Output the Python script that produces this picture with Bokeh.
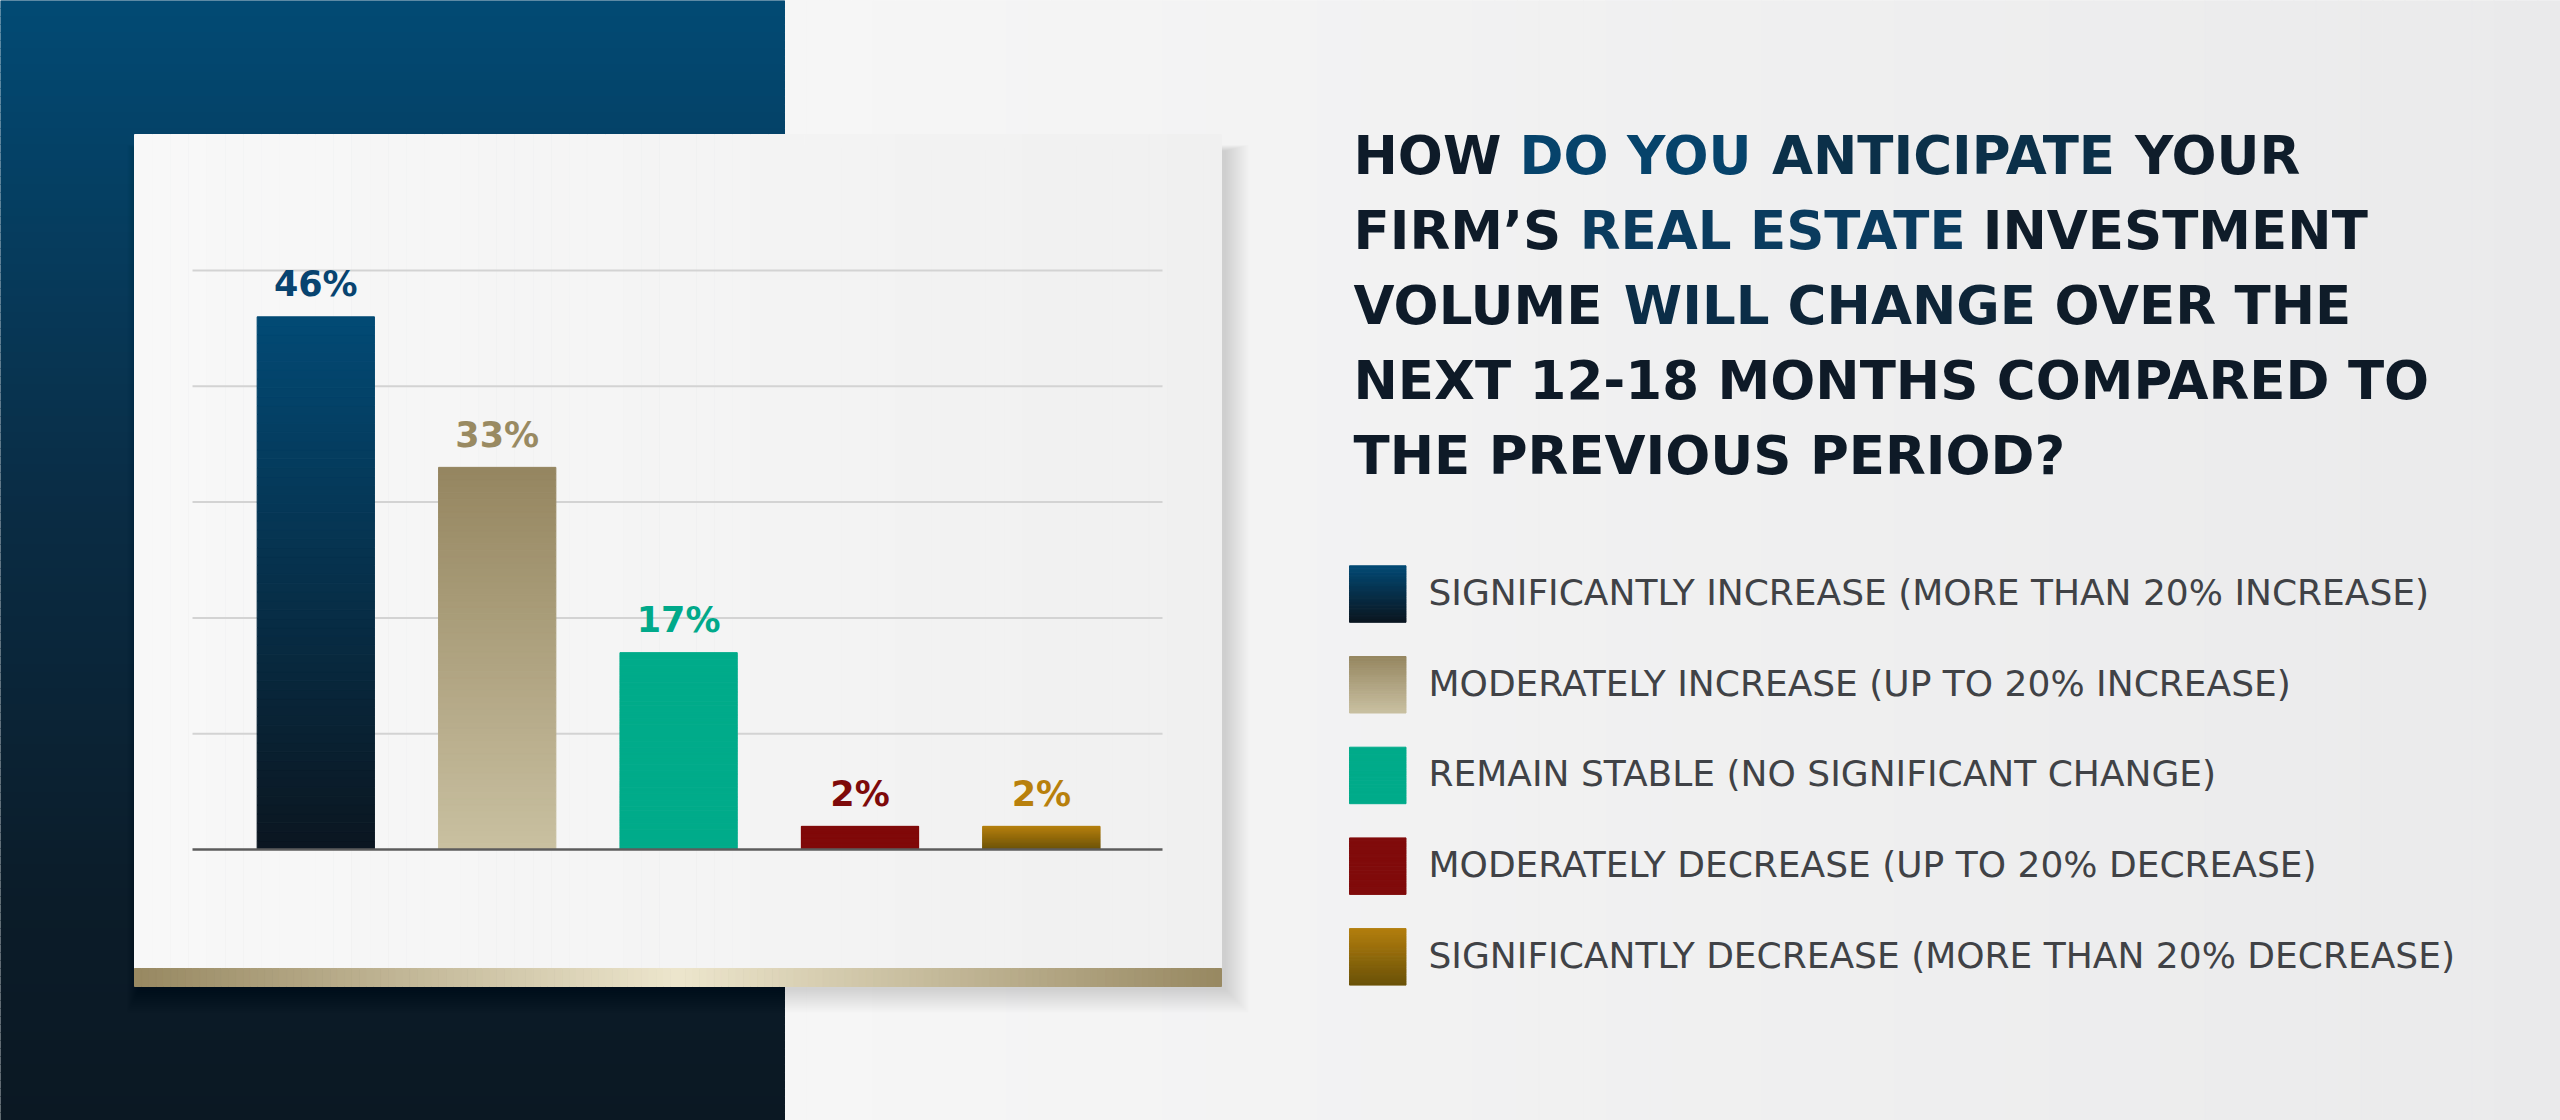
from bokeh.plotting import figure
from bokeh.models import Range1d, ColumnDataSource
from bokeh.core.properties import value
from bokeh.embed import file_html
from bokeh.resources import INLINE

# ---- data ----
categories = [
    "SIGNIFICANTLY INCREASE (MORE THAN 20% INCREASE)",
    "MODERATELY INCREASE (UP TO 20% INCREASE)",
    "REMAIN STABLE (NO SIGNIFICANT CHANGE)",
    "MODERATELY DECREASE (UP TO 20% DECREASE)",
    "SIGNIFICANTLY DECREASE (MORE THAN 20% DECREASE)",
]
values = [46, 33, 17, 2, 2]
grid_ticks = [10, 20, 30, 40, 50]
title_lines = [
    [("HOW", "#0e1b29"), ("DO YOU", "#06436b"), ("ANTICIPATE", "#0b3049"), ("YOUR", "#0f1d2b")],
    [("FIRM\u2019S", "#0e1b29"), ("REAL ESTATE", "#0a3b5e"), ("INVESTMENT", "#0f1c29")],
    [("VOLUME", "#0e1b29"), ("WILL", "#0b2d47"), ("CHANGE", "#0e2538"), ("OVER THE", "#0f1c29")],
    [("NEXT 12-18 MONTHS COMPARED TO", "#0e1a27")],
    [("THE PREVIOUS PERIOD?", "#0e1a27")],
]

# ---- colours ----
bar_top = ["#024a75", "#958660", "#00ab8a", "#800b0b", "#b47f0e"]
bar_bottom = ["#0b1620", "#c9c0a1", "#00ab8a", "#800b0b", "#6a5208"]
label_colors = ["#084470", "#998a62", "#00a98a", "#7e0a0a", "#b8800c"]

W, H = 2560, 1120
BL = 0.4  # svg text sits this many em below the asked baseline

# DejaVu Sans Bold advance widths (em), used to lay the coloured title pieces side by side
adv = {" ": .348, "A": .774, "C": .734, "D": .830, "E": .683, "F": .683, "G": .821, "H": .837,
       "I": .372, "L": .637, "M": .995, "N": .837, "O": .850, "P": .733, "R": .770, "S": .720,
       "T": .682, "U": .812, "V": .774, "W": 1.098, "X": .774, "Y": .724, "\u2019": .380,
       "?": .580, "-": .415, "1": .696, "2": .696, "8": .696}
kern = {"AT": -.09, "TA": -.09, "PA": -.05}


def text_width(s):
    w = sum(adv.get(ch, .7) for ch in s)
    return w + sum(kern.get(s[i:i + 2], 0) for i in range(len(s) - 1))


def hex2rgb(c):
    c = c.lstrip("#")
    return [int(c[i:i + 2], 16) for i in (0, 2, 4)]


def mix(c1, c2, t):
    a, b = hex2rgb(c1), hex2rgb(c2)
    return "#%02x%02x%02x" % tuple(round(a[i] + (b[i] - a[i]) * t) for i in range(3))


def ramp(stops, t):
    for (t0, c0), (t1, c1) in zip(stops[:-1], stops[1:]):
        if t <= t1:
            return mix(c0, c1, (t - t0) / (t1 - t0) if t1 > t0 else 0)
    return stops[-1][1]


p = figure(width=W, height=H, x_range=Range1d(0, W), y_range=Range1d(H, 0),
           output_backend="svg", toolbar_location=None, min_border=0,
           x_axis_location=None, y_axis_location=None)
p.grid.visible = False
p.outline_line_color = None
p.background_fill_color = "#efefef"
p.border_fill_color = "#efefef"

# chart scales: 0% on the baseline, 11.58 px per percent; bars 181.4 px apart
base_y, px_pct = 849, 11.58
first_x, step = 315.3, 181.4
p.extra_y_ranges = {"pct": Range1d(-(H - base_y) / px_pct, base_y / px_pct)}
p.extra_x_ranges = {"slot": Range1d(-first_x / step, (W - first_x) / step)}

# page background (light side)
n = 80
xs = [784 + (W - 784) * k / n for k in range(n + 1)]
cols = [ramp([(0, "#f6f6f6"), (1, "#eaeaeb")], k / n) for k in range(n)]
p.quad(left=xs[:-1], right=xs[1:], top=0, bottom=H, fill_color=cols, line_color=cols)

# dark panel on the left
n = 140
ys = [H * k / n for k in range(n + 1)]
cols = [ramp([(0, "#024a74"), (0.45, "#0a2c44"), (0.8, "#0b1c29"), (1, "#0b1823")], k / n)
        for k in range(n)]
p.quad(left=0, right=784, top=ys[:-1], bottom=ys[1:], fill_color=cols, line_color=cols)

# card shadow
for k in range(12):
    p.quad(left=138 - k, right=1226 + 2 * k, top=150 - k * 0.5, bottom=990 + 2 * k,
           fill_color="#000000", fill_alpha=0.012, line_color=None)

# card
n = 60
xs = [134 + (1221 - 134) * k / n for k in range(n + 1)]
cols = [ramp([(0, "#f8f8f8"), (1, "#f0f0f0")], k / n) for k in range(n)]
p.quad(left=xs[:-1], right=xs[1:], top=134, bottom=968, fill_color=cols, line_color=cols)

# gold strip under the card
n = 150
xs = [134 + (1221 - 134) * k / n for k in range(n + 1)]
cols = [ramp([(0, "#978861"), (0.5, "#ede6cd"), (1, "#978861")], (k + 0.5) / n) for k in range(n)]
p.quad(left=xs[:-1], right=xs[1:], top=968, bottom=986, fill_color=cols, line_color=cols)

# gridlines
gx0, gx1 = (192 - first_x) / step, (1162 - first_x) / step
p.segment(x0=gx0, x1=gx1, y0=grid_ticks, y1=grid_ticks, line_color="#d3d3d3",
          line_width=2, x_range_name="slot", y_range_name="pct")

# bars, each drawn as thin slices to give the vertical gradient
n = 60
bx, bb, bt, bc = [], [], [], []
for i, v in enumerate(values):
    for k in range(n):
        bx.append(i)
        bb.append(v * k / n)
        bt.append(v * (k + 1) / n)
        bc.append(mix(bar_bottom[i], bar_top[i], (k + 0.5) / n))
src = ColumnDataSource(dict(x=bx, bottom=bb, top=bt, color=bc))
p.vbar(x="x", bottom="bottom", top="top", width=117.3 / step, source=src,
       fill_color="color", line_color="color", line_width=1,
       x_range_name="slot", y_range_name="pct")

# baseline
p.segment(x0=[gx0], x1=[gx1], y0=[0], y1=[0], line_color="#5c5c5c", line_width=2.5,
          x_range_name="slot", y_range_name="pct")

# value labels
lab_size = 35
p.text(x=list(range(len(values))), y=values, text=[f"{v}%" for v in values],
       text_color=label_colors, text_align="center", text_baseline="alphabetic",
       y_offset=-(18.4 + BL * lab_size), text_font=value("DejaVu Sans"), text_font_style="bold",
       text_font_size=f"{lab_size}px", x_range_name="slot", y_range_name="pct")

# title, coloured pieces laid out one after another
t_size = 53
tx, ty, tt, tc = [], [], [], []
for li, segs in enumerate(title_lines):
    cx = 1353
    for word, col in segs:
        tx.append(cx)
        ty.append(175.7 + 75 * li - BL * t_size)
        tt.append(word)
        tc.append(col)
        cx += (text_width(word) + adv[" "]) * t_size
p.text(x=tx, y=ty, text=tt, text_color=tc, text_baseline="alphabetic",
       text_font=value("DejaVu Sans"), text_font_style="bold", text_font_size=f"{t_size}px")

# legend
n = 24
for i, cat in enumerate(categories):
    top = 565.3 + 90.7 * i
    ys = [top + 56.5 * k / n for k in range(n + 1)]
    cols = [mix(bar_top[i], bar_bottom[i], (k + 0.5) / n) for k in range(n)]
    p.quad(left=1349, right=1405.5, top=ys[:-1], bottom=ys[1:], fill_color=cols, line_color=cols)
leg_size = 36
p.text(x=[1428] * len(categories),
       y=[565.3 + 90.7 * i + 41 - BL * leg_size for i in range(len(categories))],
       text=categories, text_color="#404246", text_baseline="alphabetic",
       text_font=value("DejaVu Sans"), text_font_size=f"{leg_size}px")

open("out.html", "w").write(file_html(p, INLINE))
